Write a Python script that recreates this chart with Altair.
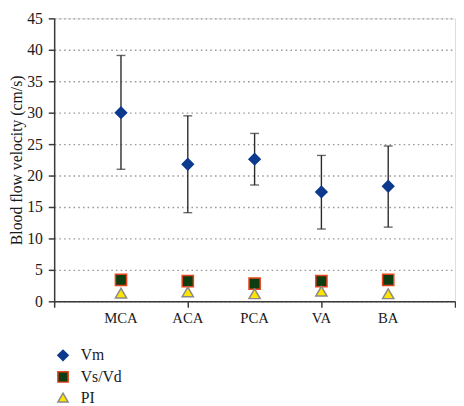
import altair as alt
import pandas as pd

# ---- data ----
sites = ["MCA", "ACA", "PCA", "VA", "BA"]
positions = [1, 2, 3, 4, 5]
vm = [30.0, 21.8, 22.6, 17.4, 18.3]
vm_low = [21.0, 14.1, 18.5, 11.5, 11.8]
vm_high = [39.1, 29.5, 26.7, 23.2, 24.7]
vs_vd = [3.4, 3.2, 2.8, 3.2, 3.4]
pi = [1.3, 1.5, 1.2, 1.6, 1.2]
series = ["Vm", "Vs/Vd", "PI"]
x_ticks = [0, 2, 4, 6]
y_ticks = [0, 5, 10, 15, 20, 25, 30, 35, 40, 45]

# ---- styling ----
FONT = "Liberation Serif"
W, H = 408, 288
shapes = ["diamond", "square", "triangle-up"]
fills = ["#0b3a8e", "#0f3d12", "#ffe400"]
strokes = ["#0b3a8e", "#e8431a", "#8a8a8a"]

pts = pd.DataFrame(
    [{"site": s, "pos": p, "series": "Vm", "value": v} for s, p, v in zip(sites, positions, vm)]
    + [{"site": s, "pos": p, "series": "Vs/Vd", "value": v} for s, p, v in zip(sites, positions, vs_vd)]
    + [{"site": s, "pos": p, "series": "PI", "value": v} for s, p, v in zip(sites, positions, pi)]
)
pts["order"] = pts["series"].map({k: i for i, k in enumerate(series)})
err = pd.DataFrame({"site": sites, "pos": positions, "lo": vm_low, "hi": vm_high})
labels = pd.DataFrame({"site": sites, "pos": positions})

xscale = alt.Scale(domain=[0, 6], nice=False, zero=False)
yscale = alt.Scale(domain=[0, 45], nice=False)

xaxis = alt.Axis(values=x_ticks, labels=False, title=None, grid=False,
                 tickSize=6, tickColor="#3a3a3a", domainColor="#3a3a3a",
                 domainWidth=1.5, tickWidth=1.5)
yaxis = alt.Axis(values=y_ticks, tickCount=10, title="Blood flow velocity (cm/s)",
                 titleFont=FONT, titleFontSize=16, titleFontWeight="normal",
                 titleColor="#1a1a1a", titleAngle=-90, titleX=-38, titleY=H / 2,
                 titleAlign="center", titleBaseline="middle",
                 labelFont=FONT, labelFontSize=16, labelColor="#1a1a1a",
                 labelPadding=6, tickSize=6, tickColor="#3a3a3a",
                 tickWidth=1.5, domainColor="#3a3a3a", domainWidth=1.5,
                 grid=True, gridColor="#9a9a9a", gridDash=[1.6, 3.2],
                 gridWidth=1.4)

legend = alt.Legend(
    title=None, orient="none", legendX=1, legendY=335, padding=0,
    symbolSize=110, symbolStrokeWidth=1.5, labelFont=FONT, labelFontSize=16,
    labelColor="#1a1a1a", labelOffset=10, rowPadding=4,
)

base = alt.Chart(err)

bars = base.mark_rule(color="#2a2a2a", strokeWidth=1.4).encode(
    x=alt.X("pos:Q", scale=xscale, axis=xaxis),
    y=alt.Y("lo:Q", scale=yscale, axis=yaxis),
    y2="hi:Q",
)
cap_lo = base.mark_tick(orient="horizontal", size=9, thickness=1.4, color="#2a2a2a").encode(
    x=alt.X("pos:Q", scale=xscale, axis=xaxis), y=alt.Y("lo:Q", scale=yscale, axis=yaxis))
cap_hi = base.mark_tick(orient="horizontal", size=9, thickness=1.4, color="#2a2a2a").encode(
    x=alt.X("pos:Q", scale=xscale, axis=xaxis), y=alt.Y("hi:Q", scale=yscale, axis=yaxis))

points = alt.Chart(pts).mark_point(filled=True, opacity=1, strokeWidth=1.5, size=130).encode(
    x=alt.X("pos:Q", scale=xscale, axis=xaxis),
    y=alt.Y("value:Q", scale=yscale, axis=yaxis),
    shape=alt.Shape("series:N", scale=alt.Scale(domain=series, range=shapes), legend=legend),
    fill=alt.Fill("series:N", scale=alt.Scale(domain=series, range=fills), legend=legend),
    stroke=alt.Stroke("series:N", scale=alt.Scale(domain=series, range=strokes), legend=legend),
    order=alt.Order("order:Q"),
)

cat_text = alt.Chart(labels).mark_text(
    font=FONT, fontSize=15, color="#1a1a1a", baseline="middle", align="center"
).encode(
    x=alt.X("pos:Q", scale=xscale, axis=xaxis),
    y=alt.value(H + 17),
    text="site:N",
)

chart = alt.layer(bars, cap_lo, cap_hi, points, cat_text).properties(
    width=W, height=H,
    autosize=alt.AutoSizeParams(type="none"),
    padding={"left": 47, "top": 7, "right": 1, "bottom": 103},
).configure_view(stroke=None).configure(background="white")

chart.save("out.html", embed_options={"renderer": "svg", "actions": False})
